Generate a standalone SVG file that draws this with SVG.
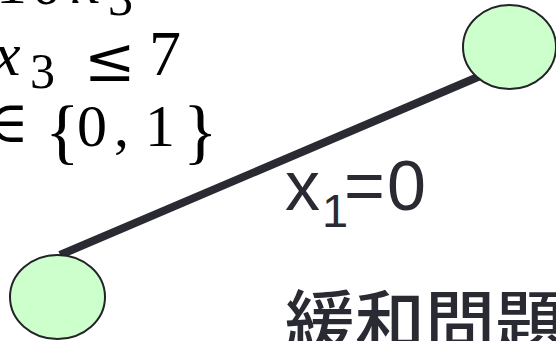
<svg xmlns="http://www.w3.org/2000/svg" width="556" height="341" viewBox="0 0 556 341">
<style>
.math{font-family:"Liberation Serif","DejaVu Serif",serif;fill:#000}
.it{font-style:italic}
.sym{font-family:"DejaVu Serif",serif}
.node{fill:#ccffcc;stroke:#222228;stroke-width:2}
.edge{stroke:#2a2a33;stroke-width:8;stroke-linecap:butt;fill:none}
.lbl{font-family:"Liberation Sans",Arial,sans-serif;fill:#2a2a33}
.cjk{font-family:"Noto Sans CJK JP","Noto Sans CJK SC",sans-serif;fill:#2a2a33}
</style>
<rect width="556" height="341" fill="#fff"/>
<g id="formula" class="math">
  <text font-size="62" y="3" x="-4">1</text>
  <text font-size="62" y="4" x="31">0</text>
  <text font-size="62" y="3" x="73" class="it">x</text>
  <text font-size="50" y="15" x="108">3</text>
  <text font-size="62" y="75" x="-7" class="it">x</text>
  <text font-size="50" y="88" x="30">3</text>
  <text font-size="62" y="81" x="84" class="sym">≤</text>
  <text font-size="64" y="75" x="149">7</text>
  <text font-size="58" y="142" x="-14" class="sym">∈</text>
  <text font-size="72" y="155" x="45">{</text>
  <text font-size="60" y="146" x="77">0</text>
  <text font-size="60" y="146" x="114">,</text>
  <text font-size="60" y="146" x="145">1</text>
  <text font-size="72" y="155" x="183">}</text>
</g>
<g id="connectors">
  <line class="edge" x1="60" y1="255" x2="485" y2="74"/>
</g>
<g id="node-root">
  <ellipse class="node" cx="509.5" cy="47" rx="46.5" ry="42"/>
</g>
<g id="node-child">
  <ellipse class="node" cx="57.5" cy="297" rx="47.5" ry="42"/>
</g>
<g id="edge-label" class="lbl">
  <text font-size="70" y="210" x="285">x</text>
  <text font-size="47" y="227" x="322">1</text>
  <text font-size="70" y="210" x="344">=</text>
  <text font-size="70" y="210" x="387">0</text>
</g>
<g id="title" class="cjk">
  <text font-size="70" x="285" y="349" font-weight="500">緩和問題</text>
</g>
</svg>
